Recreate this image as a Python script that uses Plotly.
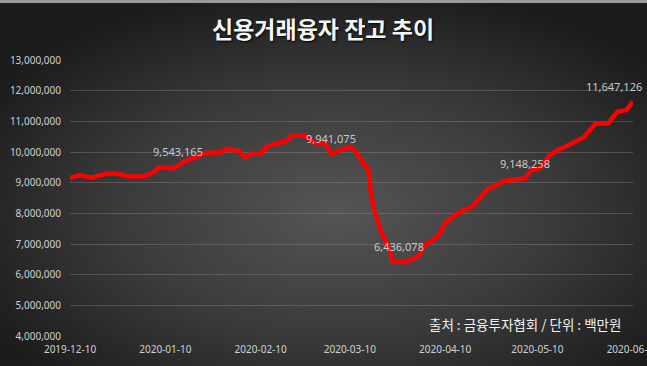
import base64
import plotly.graph_objects as go

# ---- data ----
dates = [
    "2019-12-10", "2019-12-13", "2019-12-17", "2019-12-22", "2019-12-25", "2019-12-29",
    "2020-01-03", "2020-01-06", "2020-01-08", "2020-01-10", "2020-01-12", "2020-01-14",
    "2020-01-16", "2020-01-20", "2020-01-23", "2020-01-28", "2020-01-30", "2020-02-03",
    "2020-02-05", "2020-02-07", "2020-02-10", "2020-02-12", "2020-02-15", "2020-02-18",
    "2020-02-20", "2020-02-24", "2020-02-28", "2020-03-02", "2020-03-04", "2020-03-07",
    "2020-03-10", "2020-03-12", "2020-03-14", "2020-03-16", "2020-03-17", "2020-03-18",
    "2020-03-20", "2020-03-23", "2020-03-24", "2020-03-26", "2020-03-27", "2020-03-31",
    "2020-04-02", "2020-04-03", "2020-04-06", "2020-04-08", "2020-04-10", "2020-04-14",
    "2020-04-18", "2020-04-19", "2020-04-24", "2020-04-26", "2020-04-29", "2020-05-06",
    "2020-05-08", "2020-05-11", "2020-05-14", "2020-05-16", "2020-05-20", "2020-05-25",
    "2020-05-29", "2020-06-02", "2020-06-05", "2020-06-08", "2020-06-10",
]
balance = [
    9160000, 9240000, 9160000, 9300000, 9300000, 9200000,
    9210000, 9330000, 9510000, 9500000, 9460000, 9543165,
    9680000, 9840000, 9970000, 9990000, 10100000, 10030000,
    9810000, 9950000, 9950000, 10170000, 10280000, 10340000,
    10520000, 10550000, 10280000, 10280000, 9941075, 10060000,
    10170000, 10000000, 9680000, 9430000, 8530000, 8100000,
    7440000, 6800000, 6410000, 6436078, 6410000, 6520000,
    6690000, 6960000, 7130000, 7290000, 7700000, 8000000,
    8170000, 8240000, 8810000, 8880000, 9050000, 9148258,
    9400000, 9490000, 9900000, 10030000, 10220000, 10480000,
    10930000, 10930000, 11310000, 11370000, 11647126,
]
labeled_dates = ["2020-01-14", "2020-03-04", "2020-03-26", "2020-05-06", "2020-06-10"]
label_xshift = [0, 0, 0, 0, -19]

y_ticks = [4000000, 5000000, 6000000, 7000000, 8000000, 9000000,
           10000000, 11000000, 12000000, 13000000]
x_ticks = ["2019-12-10", "2020-01-10", "2020-02-10", "2020-03-10",
           "2020-04-10", "2020-05-10", "2020-06-10"]

title_text = "신용거래융자 잔고 추이"
source_text = "출처 : 금융투자협회 / 단위 : 백만원"

# ---- layout geometry ----
W, H = 647, 366
ML, MR, MT, MB = 70, 14, 60, 30
pw, ph = W - ML - MR, H - MT - MB

svg = f'''<svg xmlns="http://www.w3.org/2000/svg" width="{W}" height="{H}" viewBox="0 0 {W} {H}" preserveAspectRatio="none">
<defs><radialGradient id="g" cx="52%" cy="58%" r="62%" gradientUnits="objectBoundingBox">
<stop offset="0%" stop-color="#555555"/><stop offset="55%" stop-color="#3a3a3a"/><stop offset="100%" stop-color="#1c1c1c"/>
</radialGradient></defs>
<rect x="0" y="0" width="{W}" height="{H}" fill="url(#g)"/>
<rect x="0" y="0" width="{W}" height="3" fill="#9c9c9c"/>
</svg>'''
bg_src = "data:image/svg+xml;base64," + base64.b64encode(svg.encode("utf-8")).decode("ascii")

fig = go.Figure()
fig.add_trace(go.Scatter(
    x=dates, y=balance, mode="lines",
    line=dict(color="#ff0000", width=4.5),
    hoverinfo="skip", showlegend=False,
))

for d, xs in zip(labeled_dates, label_xshift):
    v = balance[dates.index(d)]
    fig.add_annotation(
        x=d, y=v, text=f"{v:,}", showarrow=False, yshift=15, xshift=xs,
        font=dict(family="Noto Sans, Liberation Sans, sans-serif", size=11, color="#c9c9c9"),
    )

fig.add_annotation(
    xref="paper", yref="paper", x=0.5 + (323 - (ML + pw / 2)) / pw, y=1 + (MT - 28) / ph,
    text=title_text, showarrow=False, xanchor="center", yanchor="middle",
    font=dict(family="Noto Sans CJK KR", size=23, color="#f5f5f5", weight="bold",
              shadow="1px 1px 2px #000000"),
)
fig.add_annotation(
    xref="paper", yref="paper", x=(623 - ML) / pw, y=(H - MB - 324) / ph,
    text=source_text, showarrow=False, xanchor="right", yanchor="middle",
    font=dict(family="Noto Sans CJK KR", size=13.5, color="#f0f0f0"),
)

fig.add_layout_image(dict(
    source=bg_src, xref="paper", yref="paper",
    x=-ML / pw, y=1 + MT / ph, sizex=W / pw, sizey=H / ph,
    xanchor="left", yanchor="top", sizing="stretch", layer="below",
))

fig.update_layout(
    width=W, height=H,
    margin=dict(l=ML, r=MR, t=MT, b=MB, pad=0, autoexpand=False),
    paper_bgcolor="#262626", plot_bgcolor="rgba(0,0,0,0)",
    showlegend=False,
    xaxis=dict(
        type="date", range=["2019-12-10", "2020-06-10 02:00"], automargin=False,
        tickvals=x_ticks, ticktext=x_ticks, ticklabeloverflow="allow",
        ticklabelstandoff=6,
        showgrid=False, zeroline=False, showline=False, ticks="",
        tickfont=dict(family="Noto Sans, Liberation Sans, sans-serif", size=10, color="#d0d0d0"),
    ),
    yaxis=dict(
        range=[4000000, 13000000], tickvals=y_ticks, automargin=False,
        ticktext=[f"{v:,}" for v in y_ticks],
        ticklabelstandoff=8,
        showgrid=True, gridcolor="rgba(150,150,150,0.35)", gridwidth=1,
        zeroline=False, showline=False, ticks="", ticklen=0,
        tickfont=dict(family="Noto Sans, Liberation Sans, sans-serif", size=10, color="#d0d0d0"),
    ),
)

fig.write_html(
    "out.html",
    config={"displayModeBar": False},
    post_script="document.body.style.margin='0';document.body.style.overflow='hidden';",
)
